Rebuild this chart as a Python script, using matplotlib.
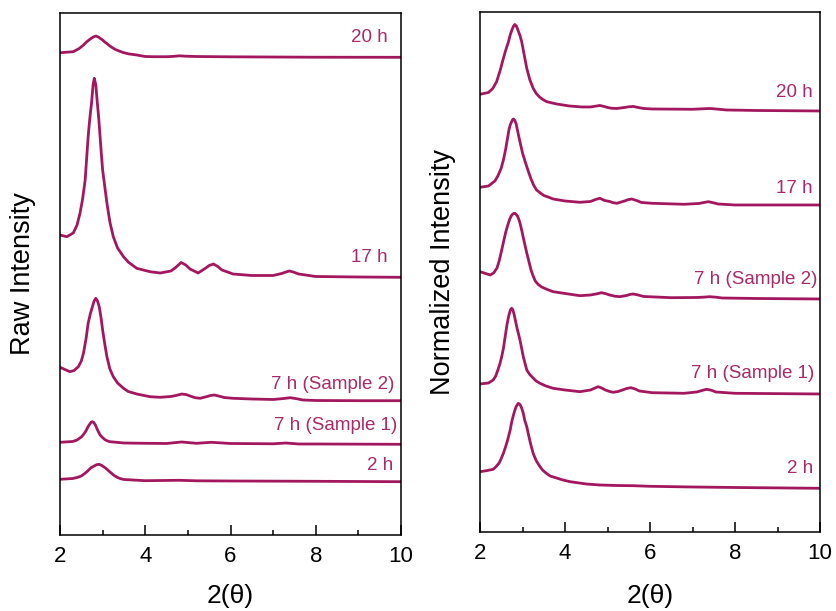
import matplotlib
matplotlib.use("Agg")
import matplotlib.pyplot as plt
from matplotlib.ticker import MultipleLocator

plt.rcParams['font.family'] = ['Liberation Sans', 'DejaVu Sans']

labels = ["20 h", "17 h", "7 h (Sample 2)", "7 h (Sample 1)", "2 h"]

# raw intensity (left panel), curves already stacked
raw_20h_x = [2.0, 2.31, 2.45, 2.55, 2.62, 2.7, 2.78, 2.84, 2.9, 2.94, 3.0, 3.05, 3.1, 3.17, 3.23, 3.3, 3.43, 3.5, 3.6, 3.8,
             4.0, 4.2, 4.5, 4.65, 4.8, 4.95, 5.2, 6.0, 7.0, 8.0, 10.0]
raw_20h_y = [482.3, 483.3, 486.5, 490, 493, 495.7, 498, 499, 498, 496.7, 495, 493, 491.5, 489, 487.3, 485.5, 483.3, 482.3, 481.2, 480,
             478.5, 478.3, 478.3, 478.6, 479.2, 478.8, 478.5, 478.2, 478, 477.8, 477.7]

raw_17h_x = [2.0, 2.16, 2.31, 2.4, 2.47, 2.53, 2.59, 2.66, 2.7, 2.74, 2.775, 2.805, 2.84, 2.876, 2.91, 2.94, 2.97, 3.0, 3.1, 3.17,
             3.25, 3.35, 3.49, 3.6, 3.8, 4.0, 4.11, 4.35, 4.6, 4.7, 4.84, 4.95, 5.05, 5.24, 5.42, 5.5, 5.6, 5.7, 5.8, 6.06,
             6.5, 7.0, 7.2, 7.3, 7.38, 7.47, 7.6, 8.0, 9.0, 10.0]
raw_17h_y = [300, 298.3, 302, 310, 322, 336, 355, 398.3, 417, 432, 450, 456.7, 450, 432, 416, 398.3, 381, 365, 332, 313,
             298.3, 287, 278.3, 273, 266.7, 264.5, 263.3, 262, 264, 267, 272.5, 270, 266, 262, 267, 269.5, 271, 268.5, 265, 261,
             259.5, 259.5, 261.5, 263, 264, 263, 261, 258.5, 258, 257.7]

raw_7h2_x = [2.0, 2.23, 2.33, 2.43, 2.5, 2.55, 2.61, 2.66, 2.71, 2.76, 2.8, 2.84, 2.88, 2.92, 2.96, 3.0, 3.05, 3.1, 3.17, 3.25,
             3.35, 3.49, 3.6, 3.8, 4.11, 4.35, 4.6, 4.72, 4.86, 4.97, 5.05, 5.17, 5.29, 5.45, 5.53, 5.62, 5.72, 5.85, 6.06, 6.5,
             7.0, 7.25, 7.4, 7.55, 7.7, 8.0, 9.0, 10.0]
raw_7h2_y = [167.7, 163.3, 164.5, 168.3, 174, 181.7, 196, 211.7, 221, 228.3, 234, 236.7, 234, 228.3, 218, 205, 191, 178.3, 166, 158.3,
             152, 146.7, 143.5, 141, 138.3, 137.7, 138.5, 139.5, 141, 140.3, 139, 137.3, 136.7, 138.5, 139.5, 140, 139, 137.5, 136.7, 136,
             135.5, 136.5, 137.3, 136.3, 135, 134.5, 134.3, 134.3]

raw_7h1_x = [2.0, 2.3, 2.4, 2.5, 2.56, 2.62, 2.66, 2.7, 2.73, 2.76, 2.79, 2.83, 2.88, 2.94, 3.0, 3.05, 3.1, 3.17, 3.5, 4.0,
             4.5, 4.85, 5.2, 5.55, 6.0, 7.0, 7.3, 7.6, 8.0, 10.0]
raw_7h1_y = [92.7, 93.5, 95, 98, 101, 105, 108.5, 111, 112.8, 113.3, 112.6, 110, 105, 100, 97.3, 95.5, 94.3, 93.3, 92, 91.7,
             91.5, 93, 91.7, 92.7, 91.5, 91.2, 92, 91, 91, 90.7]

raw_2h_x = [2.0, 2.3, 2.4, 2.5, 2.58, 2.65, 2.72, 2.8, 2.86, 2.92, 2.98, 3.05, 3.12, 3.2, 3.27, 3.35, 3.42, 3.5, 4.0, 4.8,
            5.2, 6.0, 8.0, 10.0]
raw_2h_y = [55.7, 56.5, 57.5, 59, 61.5, 64, 67, 69, 70.3, 70.7, 69.5, 67.5, 65, 62, 59.5, 57.5, 56.3, 55.5, 54.3, 54.7,
            54.2, 54, 53.7, 53.3]

# normalized intensity (right panel), curves already stacked
norm_20h_x = [2.0, 2.2, 2.3, 2.39, 2.47, 2.55, 2.61, 2.67, 2.71, 2.75, 2.79, 2.82, 2.86, 2.9, 2.94, 2.98, 3.04, 3.1, 3.17, 3.25,
              3.32, 3.4, 3.48, 3.57, 3.8, 4.1, 4.4, 4.6, 4.7, 4.82, 4.92, 5.0, 5.1, 5.22, 5.4, 5.5, 5.61, 5.72, 5.85, 6.05,
              7.0, 7.25, 7.41, 7.6, 7.8, 8.5, 10.0]
norm_20h_y = [437.7, 439.5, 443.5, 450.3, 461, 473.7, 482.5, 490.3, 497, 502, 506, 507.5, 505.5, 501, 496.5, 490.3, 477, 463.7, 452.5, 443.7,
              438.7, 435, 432.4, 430.3, 428, 426, 425, 425, 425.7, 426.5, 425.5, 424.5, 423.7, 423.5, 424.5, 425.2, 425.5, 424.5, 423.5, 423,
              422.7, 423.2, 423.5, 422.8, 422, 421.5, 421]

norm_17h_x = [2.0, 2.2, 2.35, 2.42, 2.5, 2.55, 2.6, 2.64, 2.68, 2.71, 2.74, 2.77, 2.79, 2.82, 2.85, 2.88, 2.92, 2.96, 3.0, 3.05,
              3.1, 3.15, 3.2, 3.26, 3.33, 3.42, 3.5, 3.6, 3.72, 4.0, 4.35, 4.6, 4.72, 4.82, 4.93, 5.05, 5.13, 5.22, 5.4, 5.48,
              5.57, 5.68, 5.8, 6.05, 6.8, 7.15, 7.27, 7.37, 7.48, 7.6, 8.0, 10.0]
norm_17h_y = [344.7, 346, 351, 356, 364, 372, 382, 392, 402, 407, 410, 412.5, 413, 411.5, 408, 402, 394, 386.5, 379, 372,
              365.3, 359, 353, 347, 342, 339, 336.5, 335, 333, 331, 329.7, 330.5, 332.5, 333.7, 331.5, 330.5, 329.3, 328.7, 331, 332.3,
              333, 331.5, 329.5, 328.7, 327.7, 328.5, 329.5, 330.3, 329.3, 328, 327, 327]

norm_7h2_x = [2.0, 2.24, 2.32, 2.4, 2.45, 2.5, 2.55, 2.6, 2.65, 2.7, 2.73, 2.76, 2.79, 2.82, 2.85, 2.88, 2.91, 2.94, 2.98, 3.02,
              3.06, 3.1, 3.15, 3.2, 3.25, 3.3, 3.37, 3.45, 3.58, 3.72, 4.0, 4.35, 4.6, 4.73, 4.86, 4.96, 5.05, 5.17, 5.29, 5.45,
              5.52, 5.6, 5.7, 5.85, 6.5, 7.1, 7.25, 7.4, 7.55, 7.7, 8.5, 10.0]
norm_7h2_y = [260.3, 257, 259, 264, 271, 280, 289.5, 299, 306.5, 313, 315.7, 317.5, 318.5, 318.7, 317.6, 316, 313, 309, 302, 294,
              286.5, 279, 270.5, 262, 256, 251, 247.5, 245, 242.5, 240.3, 238.5, 236.3, 237, 238, 239.3, 238.3, 237, 235.8, 235.3, 236.5,
              237.5, 238, 237.2, 235.5, 234.3, 234.5, 234.8, 235.3, 234.8, 234, 233.5, 233]

norm_7h1_x = [2.0, 2.2, 2.31, 2.37, 2.42, 2.47, 2.51, 2.55, 2.58, 2.61, 2.64, 2.67, 2.7, 2.72, 2.745, 2.77, 2.8, 2.83, 2.87, 2.9,
              2.94, 2.98, 3.02, 3.06, 3.1, 3.17, 3.25, 3.32, 3.41, 3.55, 3.72, 4.0, 4.35, 4.6, 4.68, 4.78, 4.86, 4.95, 5.05, 5.13,
              5.25, 5.35, 5.45, 5.55, 5.65, 5.75, 6.05, 6.8, 7.1, 7.22, 7.33, 7.44, 7.55, 8.0, 10.0]
norm_7h1_y = [148, 149, 152, 156, 162, 168.5, 175.3, 183.5, 192, 200.5, 208.7, 215, 220, 222.5, 223.7, 222.5, 218, 212, 204, 199,
              192, 183.5, 175, 168.5, 162, 157.5, 154, 151, 148.7, 146, 143.7, 142, 140.3, 142, 143.5, 145.3, 144, 142, 140.5, 139.7,
              140.5, 142, 143.5, 144.3, 143, 141, 139.3, 138.7, 140, 141.5, 142.7, 141.8, 140, 138.7, 138]

norm_2h_x = [2.0, 2.15, 2.31, 2.38, 2.45, 2.5, 2.55, 2.6, 2.65, 2.68, 2.71, 2.75, 2.8, 2.85, 2.9, 2.94, 2.98, 3.02, 3.05, 3.1,
             3.14, 3.18, 3.21, 3.25, 3.32, 3.4, 3.47, 3.56, 3.65, 3.8, 3.95, 4.12, 4.5, 4.82, 5.2, 5.6, 6.0, 7.0, 8.0, 10.0]
norm_2h_y = [60.3, 61.3, 62.7, 65.5, 69, 73.5, 78.7, 85, 92, 97, 102, 111, 119, 125.5, 128.7, 127.5, 124, 118.5, 112, 105.3,
             97.5, 90, 85, 78.7, 71.5, 66, 62, 58.7, 56, 54, 52, 50.3, 48, 47, 46.5, 46.3, 45.7, 45, 44.5, 43.7]

raw_series = [(raw_20h_x, raw_20h_y), (raw_17h_x, raw_17h_y), (raw_7h2_x, raw_7h2_y),
              (raw_7h1_x, raw_7h1_y), (raw_2h_x, raw_2h_y)]
norm_series = [(norm_20h_x, norm_20h_y), (norm_17h_x, norm_17h_y), (norm_7h2_x, norm_7h2_y),
               (norm_7h1_x, norm_7h1_y), (norm_2h_x, norm_2h_y)]

# label anchor points (axes fraction, right aligned)
raw_label_pos = [(0.962, 0.954), (0.962, 0.531), (0.982, 0.289), (0.988, 0.209), (0.977, 0.134)]
norm_label_pos = [(0.979, 0.845), (0.979, 0.661), (0.991, 0.486), (0.982, 0.305), (0.979, 0.1225)]

line_color = '#A3175F'
text_color = '#A82A68'

fig = plt.figure(figsize=(8.37, 6.11), dpi=100)
ax1 = fig.add_axes([0.0717, 0.1244, 0.4074, 0.8543])
ax2 = fig.add_axes([0.5735, 0.1293, 0.4062, 0.8511])

panels = [(ax1, raw_series, raw_label_pos, "Raw Intensity", 522),
          (ax2, norm_series, norm_label_pos, "Normalized Intensity", 520)]

for ax, series, label_pos, ylab, ytop in panels:
    for (xs, ys), lab, (tx, ty) in zip(series, labels, label_pos):
        ax.plot(xs, ys, color=line_color, lw=2.0, solid_joinstyle='round')
        ax.text(tx, ty, lab, transform=ax.transAxes, ha='right', va='center',
                fontsize=13.5, color=text_color)
    ax.set_xlim(2, 10)
    ax.set_ylim(0, ytop)
    ax.set_yticks([])
    ax.xaxis.set_major_locator(MultipleLocator(2))
    ax.xaxis.set_minor_locator(MultipleLocator(1))
    ax.tick_params(axis='x', which='major', direction='in', length=7, width=1.1,
                   labelsize=16, pad=8, top=False)
    ax.tick_params(axis='x', which='minor', direction='in', length=3.5, width=1.1, top=False)
    for sp in ax.spines.values():
        sp.set_linewidth(1.1)
    ax.set_xlabel("2(θ)", fontsize=19)
    ax.set_ylabel(ylab, fontsize=19.5)
    ax.yaxis.set_label_coords(-0.108, 0.5)

ax1.xaxis.set_label_coords(0.5, -0.117)
ax2.xaxis.set_label_coords(0.5, -0.123)
ax1.xaxis.label.set_va('center')
ax2.xaxis.label.set_va('center')
ax1.yaxis.label.set_va('center')
ax2.yaxis.label.set_va('center')

fig.savefig("out.png", dpi=100)
